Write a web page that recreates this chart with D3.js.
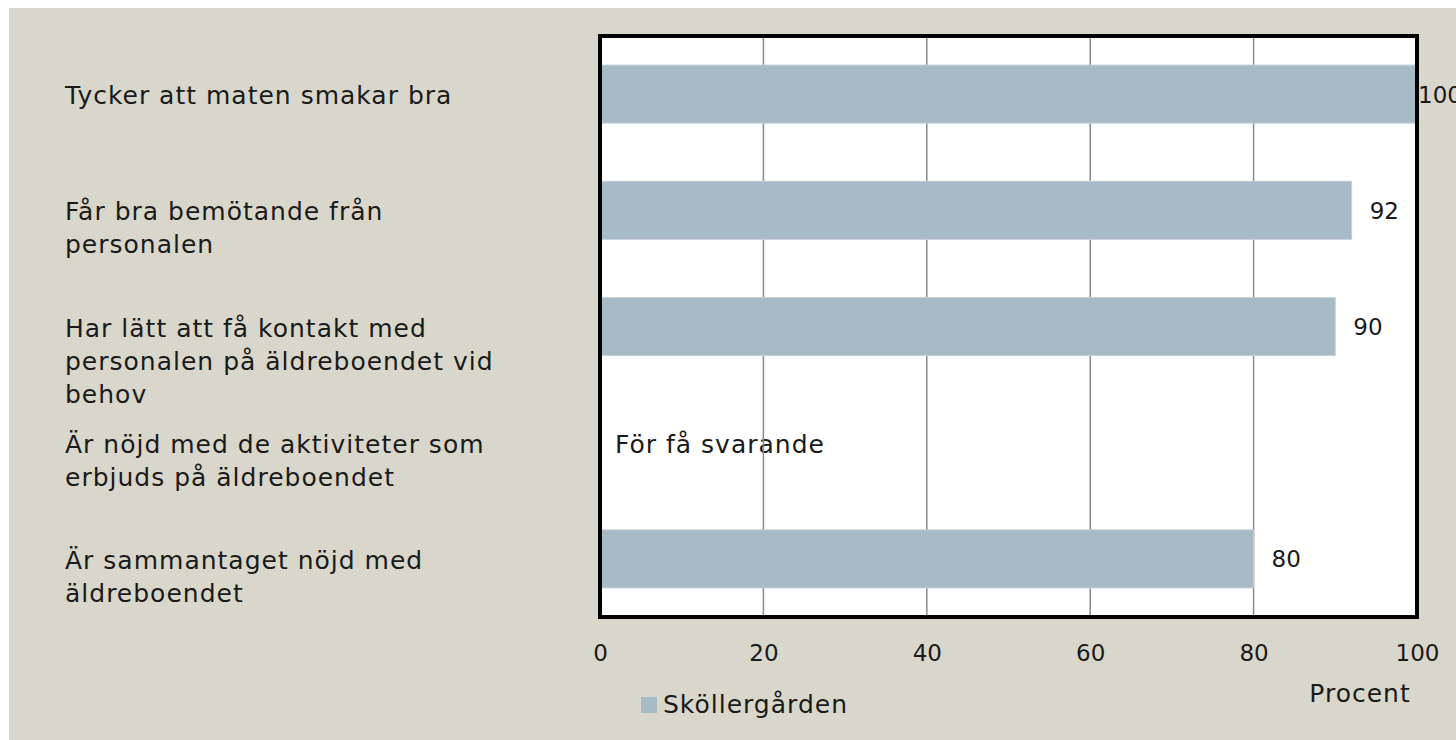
<!DOCTYPE html>
<html>
<head>
<meta charset="utf-8">
<script src="https://cdn.jsdelivr.net/npm/d3@7"></script>
<style>
  body { margin: 0; background: #ffffff; }
  svg { display: block; }
  text { font-family: 'DejaVu Sans', sans-serif; fill: #1a1a1a; }
  .label { font-size: 25px; letter-spacing: 1px; }
  .num { font-size: 23px; }
</style>
</head>
<body>
<div id="wrapper"></div>
<script>
'use strict';

//#region DATASET
const categories = [
  ['Tycker att maten smakar bra'],
  ['Får bra bemötande från', 'personalen'],
  ['Har lätt att få kontakt med', 'personalen på äldreboendet vid', 'behov'],
  ['Är nöjd med de aktiviteter som', 'erbjuds på äldreboendet'],
  ['Är sammantaget nöjd med', 'äldreboendet']
];
const values = [100, 92, 90, null, 80];
const xTicks = [0, 20, 40, 60, 80, 100];
const seriesName = 'Sköllergården';
const axisTitle = 'Procent';
const missingNote = 'För få svarande';
//#endregion DATASET

function drawChart () {
  //#region CHART DIMENSIONS
  const dimensions = {
    width: 1456,
    height: 740,
    plot: { left: 600, right: 1417, top: 36, bottom: 617 }
  };
  const lineHeight = 33;
  //#endregion CHART DIMENSIONS

  //#region DRAW CANVAS
  const svg = d3.select('#wrapper').append('svg')
    .attr('width', dimensions.width)
    .attr('height', dimensions.height);

  svg.append('rect')
    .attr('x', 9)
    .attr('y', 8)
    .attr('width', dimensions.width - 9)
    .attr('height', dimensions.height - 8)
    .attr('fill', '#d9d7cb');

  svg.append('rect')
    .attr('x', dimensions.plot.left)
    .attr('y', dimensions.plot.top)
    .attr('width', dimensions.plot.right - dimensions.plot.left)
    .attr('height', dimensions.plot.bottom - dimensions.plot.top)
    .attr('fill', '#ffffff');
  //#endregion DRAW CANVAS

  //#region CREATE SCALES
  const xScale = d3.scaleLinear()
    .domain([0, 100])
    .range([dimensions.plot.left, dimensions.plot.right]);

  const yScale = d3.scaleBand()
    .domain(d3.range(categories.length))
    .range([dimensions.plot.top, dimensions.plot.bottom])
    .paddingInner(0.5)
    .paddingOuter(0.25);
  const bandCenter = i => yScale(i) + yScale.bandwidth() / 2;
  //#endregion CREATE SCALES

  //#region DRAW DATA
  // note for the missing category sits under the gridlines
  values.forEach((v, i) => {
    if (v == null) {
      svg.append('text')
        .attr('class', 'label')
        .attr('x', xScale(0) + 15)
        .attr('y', bandCenter(i) + 3)
        .attr('dominant-baseline', 'middle')
        .text(missingNote);
    }
  });

  svg.append('g')
    .selectAll('line')
    .data(xTicks.filter(t => t > 0 && t < 100))
    .join('line')
    .attr('x1', d => xScale(d))
    .attr('x2', d => xScale(d))
    .attr('y1', dimensions.plot.top)
    .attr('y2', dimensions.plot.bottom)
    .attr('stroke', '#8a8a8a')
    .attr('stroke-width', 1.5);

  const barData = values.map((v, i) => ({ i, v })).filter(d => d.v != null);

  svg.append('g')
    .selectAll('rect')
    .data(barData)
    .join('rect')
    .attr('x', xScale(0))
    .attr('y', d => yScale(d.i))
    .attr('width', d => xScale(d.v) - xScale(0))
    .attr('height', yScale.bandwidth())
    .attr('fill', '#a7bbc7')
    .attr('stroke', '#c3d0d8')
    .attr('stroke-width', 1);

  // value labels, the 100 one runs off the right edge as in the original
  svg.append('g')
    .selectAll('text')
    .data(barData)
    .join('text')
    .attr('class', 'num')
    .attr('x', d => xScale(d.v) + (d.v >= 100 ? 1 : 18))
    .attr('y', d => bandCenter(d.i) + 2)
    .attr('dominant-baseline', 'middle')
    .text(d => d.v);

  // plot frame
  svg.append('rect')
    .attr('x', dimensions.plot.left)
    .attr('y', dimensions.plot.top)
    .attr('width', dimensions.plot.right - dimensions.plot.left)
    .attr('height', dimensions.plot.bottom - dimensions.plot.top)
    .attr('fill', 'none')
    .attr('stroke', '#000000')
    .attr('stroke-width', 4);
  //#endregion DRAW DATA

  //#region DRAW PERIPHERALS
  const catLabels = svg.append('g')
    .selectAll('text')
    .data(categories)
    .join('text')
    .attr('class', 'label')
    .attr('x', 65)
    .attr('y', (d, i) => bandCenter(i) + 3)
    .attr('dominant-baseline', 'middle');

  catLabels.selectAll('tspan')
    .data(d => d)
    .join('tspan')
    .attr('x', 65)
    .attr('dy', (d, j) => j === 0 ? 0 : lineHeight)
    .text(d => d);

  const axisGenerator = d3.axisBottom(xScale)
    .tickValues(xTicks)
    .tickSize(0)
    .tickPadding(28);

  const xAxis = svg.append('g')
    .attr('transform', `translate(0, ${dimensions.plot.bottom})`)
    .call(axisGenerator);
  xAxis.select('.domain').remove();
  xAxis.selectAll('text')
    .attr('class', 'num')
    .style('font-family', "'DejaVu Sans', sans-serif")
    .attr('fill', '#1a1a1a');

  svg.append('text')
    .attr('class', 'label')
    .attr('x', 1360)
    .attr('y', 695)
    .attr('text-anchor', 'middle')
    .attr('dominant-baseline', 'middle')
    .text(axisTitle);

  const legend = svg.append('g')
    .attr('transform', 'translate(641, 697)');
  legend.append('rect')
    .attr('width', 16)
    .attr('height', 16)
    .attr('fill', '#a7bbc7');
  legend.append('text')
    .attr('class', 'label')
    .attr('x', 22)
    .attr('y', 9)
    .attr('dominant-baseline', 'middle')
    .text(seriesName);
  //#endregion DRAW PERIPHERALS
}

drawChart();
</script>
</body>
</html>
